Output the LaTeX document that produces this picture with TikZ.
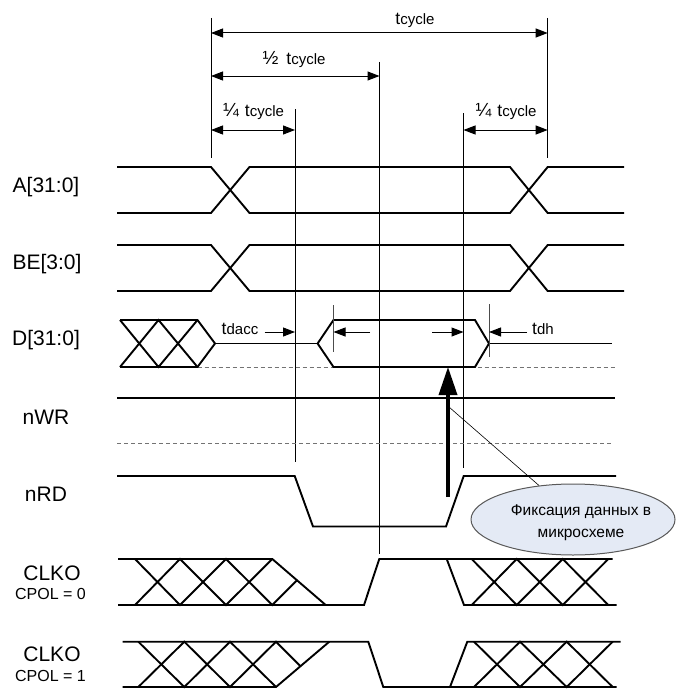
\documentclass[tikz,border=0pt]{standalone}
\usepackage{fontspec}
\setmainfont{Liberation Sans}
\usetikzlibrary{arrows.meta,shapes.geometric}
\newcommand\tsub[1]{{\fontsize{17.5}{17}\selectfont t}{\fontsize{15}{15}\selectfont #1}}
\newcommand\frc[1]{{\fontsize{19}{19}\selectfont #1}}
\begin{document}
\begin{tikzpicture}[x=1pt,y=-1pt,
  sig/.style={line width=1.9pt, line join=miter},
  guide/.style={line width=0.9pt},
  tickln/.style={line width=0.8pt, black!70},
  dim/.style={line width=1pt, {Triangle[length=12pt,width=9pt]}-{Triangle[length=12pt,width=9pt]}},
  rarr/.style={line width=1pt, -{Triangle[length=12pt,width=9pt]}},
  lbl/.style={font=\fontsize{21}{24}\selectfont, inner sep=0pt},
  sublbl/.style={font=\fontsize{16}{18}\selectfont, inner sep=0pt},
  tlbl/.style={inner sep=0pt},
  dashln/.style={line width=1pt, black!55, dash pattern=on 4pt off 3pt}
]
\useasboundingbox (0,0) rectangle (676,693);
\fill[white] (0,0) rectangle (676,693);

% guide lines
\coordinate (g0t) at (211,18);    \coordinate (g0b) at (211,158);
\coordinate (g1t) at (295,109);   \coordinate (g1b) at (295,462);
\coordinate (g2t) at (379.5,62);  \coordinate (g2b) at (379.5,554);
\coordinate (g3t) at (463.5,113); \coordinate (g3b) at (463.5,468);
\coordinate (g4t) at (547.7,18);  \coordinate (g4b) at (547.7,158);
\foreach \g in {0,...,4} {\draw[guide] (g\g t) -- (g\g b);}

% dimension arrows
\coordinate (d1a) at (211,33);   \coordinate (d1b) at (547.7,33);
\coordinate (d2a) at (211,76);   \coordinate (d2b) at (379.5,76);
\coordinate (d3a) at (211,130);  \coordinate (d3b) at (295,130);
\coordinate (d4a) at (463.5,130);\coordinate (d4b) at (547.7,130);
\draw[dim] (d1a) -- (d1b);
\draw[dim] (d2a) -- (d2b);
\draw[dim] (d3a) -- (d3b);
\draw[dim] (d4a) -- (d4b);
\node[tlbl] (ltc) at (415,20) {\tsub{cycle}};
\node[tlbl] (lhalf) at (294,60) {\frc{½}\hspace{8pt}\tsub{cycle}};
\node[tlbl] (lq1) at (253.5,112) {\frc{¼}\hspace{6pt}\tsub{cycle}};
\node[tlbl] (lq2) at (506,112) {\frc{¼}\hspace{6pt}\tsub{cycle}};

% signal labels
\node[lbl] (nA) at (46,187) {A[31:0]};
\node[lbl] (nBE) at (47,264) {BE[3:0]};
\node[lbl] (nD) at (46,340) {D[31:0]};
\node[lbl] (nWR) at (46,417) {nWR};
\node[lbl] (nRD) at (46,494) {nRD};
\node[lbl] (nC0) at (52,573) {CLKO};
\node[sublbl] (nP0) at (50.5,594) {CPOL = 0};
\node[lbl] (nC1) at (52,654) {CLKO};
\node[sublbl] (nP1) at (50.5,676) {CPOL = 1};

% A and BE
\foreach \T/\B in {167/213, 245/291} {
  \draw[sig] (117,\T)--(211,\T)--(249.5,\B)--(510,\B)--(547.7,\T)--(624,\T);
  \draw[sig] (117,\B)--(211,\B)--(249.5,\T)--(510,\T)--(547.7,\B)--(624,\B);
}

% D row
\draw[dashln] (197.5,367) -- (615,367);
\draw[sig] (120,320)--(197.5,320)--(215,343.5)--(197.5,367)--(120,367);
\draw[sig] (120,320)--(158.5,367)--(197.5,320);
\draw[sig] (120,367)--(158.5,320)--(197.5,367);
\draw[sig] (215,343.5)--(317.6,343.5);
\draw[sig] (317.6,343.5)--(333.5,320)--(475,320)--(489,343.5)--(475,367)--(333.5,367)--cycle;
\draw[sig] (489,343.5)--(612,343.5);
\coordinate (k1t) at (333.5,305); \coordinate (k1b) at (333.5,352);
\coordinate (k2t) at (489,304);   \coordinate (k2b) at (489,357);
\draw[tickln] (k1t)--(k1b);
\draw[tickln] (k2t)--(k2b);
\node[tlbl] (ltd) at (240,329) {\tsub{dacc}};
\node[tlbl] (ltdh) at (543,329) {\tsub{dh}};
\coordinate (a1) at (264.6,332); \coordinate (a1e) at (295,332);
\coordinate (a2) at (370,332);   \coordinate (a2e) at (333.5,332);
\coordinate (a3) at (432,332);   \coordinate (a3e) at (463.5,332);
\coordinate (a4) at (527,332);   \coordinate (a4e) at (489,332);
\draw[rarr] (a1)--(a1e);
\draw[rarr] (a2)--(a2e);
\draw[rarr] (a3)--(a3e);
\draw[rarr] (a4)--(a4e);

% nWR
\draw[sig] (117,398)--(615,398);
\draw[dashln] (117,443)--(612.5,443);

% nRD
\draw[sig] (117,476)--(294.7,476)--(313,526.5)--(446,526.5)--(463.7,476)--(616,476);

% CLKO CPOL=0
\begin{scope}
\def\T{559}\def\B{605}
\draw[sig] (118,\T)--(272.3,\T)--(325.7,\B);
\draw[sig] (118,\B)--(364,\B)--(379.3,\T)--(612.7,\T);
\draw[sig] (135,\T)--(180,\B)--(226,\T)--(272.3,\B)--(297,580.3);
\draw[sig] (135,\B)--(180,\T)--(226,\B)--(272.3,\T);
\draw[sig] (446.7,\T)--(464,\B)--(616.7,\B);
\draw[sig] (471.7,\T)--(516.7,\B)--(562.7,\T)--(608.3,\B);
\draw[sig] (471.7,\B)--(516.7,\T)--(562.7,\B)--(608.3,\T);
\end{scope}

% CLKO CPOL=1
\begin{scope}
\def\T{641.7}\def\B{687}
\draw[sig] (122.7,\T)--(368.3,\T)--(383.3,\B)--(616.7,\B);
\draw[sig] (122.7,\B)--(276,\B)--(329.3,\T);
\draw[sig] (138.3,\T)--(184.3,\B)--(230,\T)--(276,\B);
\draw[sig] (138.3,\B)--(184.3,\T)--(230,\B)--(276,\T)--(300.5,666.2);
\draw[sig] (450,\B)--(467.3,\T)--(620.7,\T);
\draw[sig] (474,\T)--(520,\B)--(566.7,\T)--(612.7,\B);
\draw[sig] (474,\B)--(520,\T)--(566.7,\B)--(612.7,\T);
\end{scope}

% callout
\node[ellipse, draw=black!65, line width=1pt, fill={rgb,255:red,228;green,234;blue,245},
      minimum width=204pt, minimum height=71pt, inner sep=0pt] (ell) at (573,519.5) {};
\node[align=center, font=\fontsize{15.5}{21.5}\selectfont, inner sep=0pt] (elltxt) at (581,522.5)
  {Фиксация данных в\\микросхеме};
\coordinate (abot) at (448,497);
\coordinate (atop) at (448,367);
\coordinate (aconn) at (449,407);
\draw[line width=0.6pt] (ell.135) -- (aconn);
\draw[line width=3.5pt, -{Triangle[length=28pt,width=18pt]}] (abot) -- (atop);
\end{tikzpicture}
\end{document}
